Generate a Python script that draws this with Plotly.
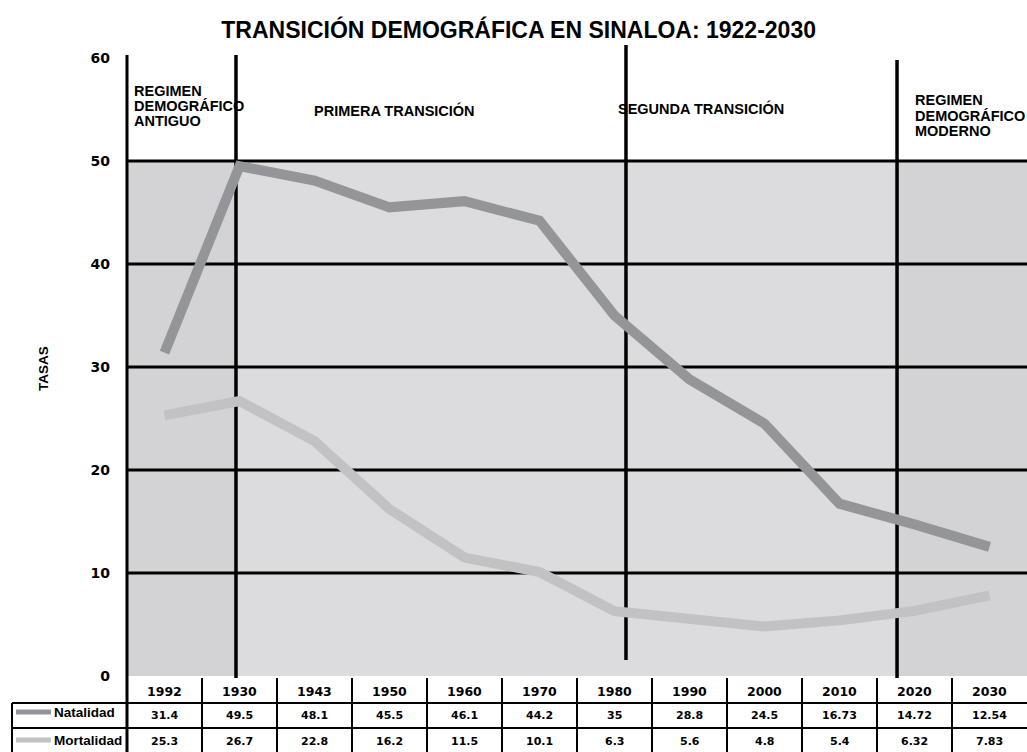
import plotly.graph_objects as go

# ---- data ----
categories = ["1992", "1930", "1943", "1950", "1960", "1970", "1980", "1990", "2000", "2010", "2020", "2030"]
natalidad = [31.4, 49.5, 48.1, 45.5, 46.1, 44.2, 35, 28.8, 24.5, 16.73, 14.72, 12.54]
mortalidad = [25.3, 26.7, 22.8, 16.2, 11.5, 10.1, 6.3, 5.6, 4.8, 5.4, 6.32, 7.83]
y_ticks = [0, 10, 20, 30, 40, 50, 60]
title_text = "TRANSICIÓN DEMOGRÁFICA EN SINALOA: 1922-2030"
series_names = ["Natalidad", "Mortalidad"]

NAT_COLOR = "#949599"
MOR_COLOR = "#c2c2c4"
FILL_DARK = "#d3d3d5"
FILL_LIGHT = "#dcdcde"

W, H = 1027, 752
ML, MR, MT, MB = 127, 0, 58, 76
PH = H - MT - MB
YMAX = 60


def py(pix):
    """pixel y -> paper y"""
    return (H - MB - pix) / PH


def pyd(pix):
    """pixel y -> data y"""
    return py(pix) * YMAX


def px(pix):
    """pixel x -> paper x"""
    return (pix - ML) / (W - ML - MR)


fig = go.Figure()
fig.add_trace(go.Scatter(x=categories, y=natalidad, mode="lines", name=series_names[0],
                         line=dict(color=NAT_COLOR, width=10)))
fig.add_trace(go.Scatter(x=categories, y=mortalidad, mode="lines", name=series_names[1],
                         line=dict(color=MOR_COLOR, width=10)))

n = len(categories)
shapes = []
# region boundaries (in category-index units) with top/bottom pixel extents
bounds = [(0.953, 55, 678), (6.153, 45, 660), (9.767, 60, 678)]
b1, b3 = bounds[0][0], bounds[2][0]
# background fills
shapes.append(dict(type="rect", xref="x", yref="y", x0=-0.5, x1=b1, y0=0, y1=50,
                   fillcolor=FILL_DARK, line_width=0, layer="below"))
shapes.append(dict(type="rect", xref="x", yref="y", x0=b1, x1=b3, y0=0, y1=50,
                   fillcolor=FILL_LIGHT, line_width=0, layer="below"))
shapes.append(dict(type="rect", xref="x", yref="y", x0=b3, x1=n - 0.5, y0=0, y1=50,
                   fillcolor=FILL_DARK, line_width=0, layer="below"))
# horizontal grid lines
for v in y_ticks[1:-1]:
    shapes.append(dict(type="line", xref="x", yref="y", x0=-0.5, x1=n - 0.5, y0=v, y1=v,
                       line=dict(color="black", width=3), layer="below"))
# region separators: inside-plot part below the traces, outside part on paper
for bx, top, bot in bounds:
    shapes.append(dict(type="line", xref="x", yref="y", x0=bx, x1=bx,
                       y0=max(pyd(bot), -1), y1=min(pyd(top), YMAX + 1),
                       line=dict(color="black", width=3.5), layer="below"))
    if top < MT:
        shapes.append(dict(type="line", xref="x", yref="paper", x0=bx, x1=bx,
                           y0=1.0, y1=py(top), line=dict(color="black", width=3.5)))
    if bot > H - MB:
        shapes.append(dict(type="line", xref="x", yref="paper", x0=bx, x1=bx,
                           y0=py(bot), y1=0.0, line=dict(color="black", width=3.5)))
# y axis line (continues into table)
shapes.append(dict(type="line", xref="paper", yref="paper", x0=0, x1=0, y0=py(752), y1=py(55),
                   line=dict(color="black", width=3)))
# table column separators
for i in range(1, n):
    shapes.append(dict(type="line", xref="x", yref="paper", x0=i - 0.5, x1=i - 0.5,
                       y0=py(752), y1=py(678), line=dict(color="black", width=2)))
# table row lines
for yy in (703, 728):
    shapes.append(dict(type="line", xref="paper", yref="paper", x0=px(12), x1=1,
                       y0=py(yy), y1=py(yy), line=dict(color="black", width=2)))
# left border of row header column
shapes.append(dict(type="line", xref="paper", yref="paper", x0=px(12), x1=px(12),
                   y0=py(752), y1=py(703), line=dict(color="black", width=2)))
# legend swatches
shapes.append(dict(type="line", xref="paper", yref="paper", x0=px(16), x1=px(51),
                   y0=py(712), y1=py(712), line=dict(color=NAT_COLOR, width=5)))
shapes.append(dict(type="line", xref="paper", yref="paper", x0=px(16), x1=px(51),
                   y0=py(740), y1=py(740), line=dict(color=MOR_COLOR, width=5)))

ann = []
SANS = "Liberation Sans, Arial, sans-serif"
LBL = dict(family=SANS, size=14.5, color="black", weight="bold")
NUM_Y = dict(family="DejaVu Sans, sans-serif", size=12.5, color="black", weight="bold")
NUM_V = dict(family="DejaVu Sans, sans-serif", size=11, color="black", weight="bold")


def label(text, xv, ypix, xref="x"):
    ann.append(dict(text=text, x=xv, y=py(ypix), xref=xref, yref="paper", xanchor="left",
                    yanchor="middle", showarrow=False, font=LBL))


# region labels
for t, yp in zip(["REGIMEN", "DEMOGRÁFICO", "ANTIGUO"], [91, 106, 121]):
    label(t, -0.43, yp)
label("PRIMERA TRANSICIÓN", 1.967, 110)
label("SEGUNDA TRANSICIÓN", 6.02, 109)
for t, yp in zip(["REGIMEN", "DEMOGRÁFICO", "MODERNO"], [100, 116, 131]):
    label(t, 9.98, yp)

# table contents
for i, c in enumerate(categories):
    ann.append(dict(text=c, x=i, y=py(691), xref="x", yref="paper", showarrow=False,
                    xanchor="center", yanchor="middle", font=NUM_Y))
    ann.append(dict(text=f"{natalidad[i]:g}", x=i, y=py(716), xref="x", yref="paper",
                    showarrow=False, xanchor="center", yanchor="middle", font=NUM_V))
    ann.append(dict(text=f"{mortalidad[i]:g}", x=i, y=py(741), xref="x", yref="paper",
                    showarrow=False, xanchor="center", yanchor="middle", font=NUM_V))
# row headers
ROWF = dict(family=SANS, size=13.5, color="black", weight="bold")
ann.append(dict(text=series_names[0], x=px(52), y=py(713), xref="paper", yref="paper",
                showarrow=False, xanchor="left", yanchor="middle", font=ROWF))
ann.append(dict(text=series_names[1], x=px(52), y=py(740), xref="paper", yref="paper",
                showarrow=False, xanchor="left", yanchor="middle", font=ROWF))
# y axis title
ann.append(dict(text="TASAS", x=px(43), y=py(369), xref="paper", yref="paper", textangle=-90,
                showarrow=False, xanchor="center", yanchor="middle", font=ROWF))

fig.update_layout(
    width=W, height=H,
    margin=dict(l=ML, r=MR, t=MT, b=MB),
    paper_bgcolor="white", plot_bgcolor="white",
    showlegend=False,
    title=dict(text=title_text, x=0.505, xref="container", xanchor="center",
               y=1 - 30 / H, yref="container", yanchor="middle",
               font=dict(family=SANS, size=23, color="black", weight="bold")),
    xaxis=dict(type="category", range=[-0.5, n - 0.5], showticklabels=False, showgrid=False,
               zeroline=False, showline=False, fixedrange=True),
    yaxis=dict(range=[0, YMAX], tickvals=y_ticks, showgrid=False, zeroline=False, showline=False,
               ticks="", ticklabelstandoff=16,
               tickfont=dict(family="DejaVu Sans, sans-serif", size=14, color="black",
                             weight="bold")),
    shapes=shapes,
    annotations=ann,
)

fig.write_html(
    "out.html",
    config={"displayModeBar": False},
    post_script="document.body.style.margin='0';document.body.style.overflow='hidden';",
)
